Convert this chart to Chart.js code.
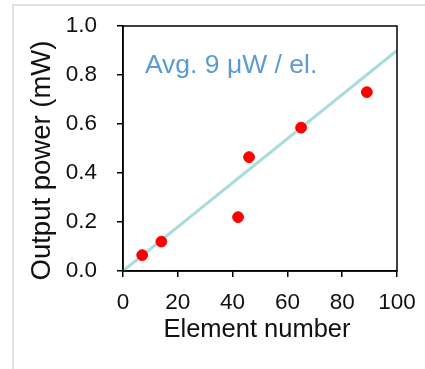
<!DOCTYPE html>
<html>
<head>
<meta charset="utf-8">
<script src="https://cdn.jsdelivr.net/npm/chart.js@4"></script>
<style>
  html, body { margin: 0; padding: 0; background: #fff; }
  #wrap { position: relative; width: 425px; height: 369px; overflow: hidden; }
  #frame { position: absolute; left: 12px; top: 4px; width: 420px; height: 370px;
           border-top: 2px solid #e2e2e2; border-left: 2px solid #e2e2e2; }
  canvas { position: absolute; left: 0; top: 0; }
</style>
</head>
<body>
<div id="wrap">
  <div id="frame"></div>
  <canvas id="c" width="425" height="369"></canvas>
</div>
<script>
const elementNumber = [7, 14, 42, 46, 65, 89];
const outputPower = [0.065, 0.12, 0.22, 0.465, 0.585, 0.73];
const fitX = [0, 100];
const fitY = [0, 0.9];
const xTicks = [0, 20, 40, 60, 80, 100];
const yTicks = [0.0, 0.2, 0.4, 0.6, 0.8, 1.0];
const annotationText = 'Avg. 9 \u03BCW / el.';
const xTitle = 'Element number';
const yTitle = 'Output power (mW)';

const fontFam = '"Liberation Sans", Arial, sans-serif';

const boxPlugin = {
  id: 'box',
  afterDatasetsDraw(chart) {
    const { ctx, chartArea: a } = chart;
    ctx.save();
    ctx.strokeStyle = '#000';
    ctx.lineWidth = 1.5;
    ctx.strokeRect(a.left, a.top, a.right - a.left, a.bottom - a.top);
    ctx.restore();
  }
};
const textPlugin = {
  id: 'texts',
  afterDraw(chart) {
    const { ctx, chartArea: a } = chart;
    const xs = chart.scales.x, ys = chart.scales.y;
    ctx.save();
    // annotation
    ctx.fillStyle = '#5b9bd5';
    ctx.font = '26.5px ' + fontFam;
    ctx.textAlign = 'left';
    ctx.textBaseline = 'alphabetic';
    ctx.fillText(annotationText, xs.getPixelForValue(8), ys.getPixelForValue(0.81));
    // x title
    ctx.fillStyle = '#111';
    ctx.font = '25.5px ' + fontFam;
    ctx.textAlign = 'center';
    ctx.fillText(xTitle, (a.left + a.right) / 2 - 3, a.bottom + 66);
    // y title
    ctx.font = '27.5px ' + fontFam;
    ctx.translate(50, (a.top + a.bottom) / 2 + 12);
    ctx.rotate(-Math.PI / 2);
    ctx.fillText(yTitle, 0, 0);
    ctx.restore();
  }
};

new Chart(document.getElementById('c'), {
  type: 'scatter',
  data: {
    datasets: [
      {
        type: 'line',
        data: fitX.map((x, i) => ({ x, y: fitY[i] })),
        borderColor: '#aadcdc',
        borderWidth: 3,
        pointRadius: 0,
        fill: false,
        order: 2
      },
      {
        data: elementNumber.map((x, i) => ({ x, y: outputPower[i] })),
        backgroundColor: '#ff0000',
        borderColor: '#ff0000',
        pointRadius: 5.4,
        order: 1
      }
    ]
  },
  plugins: [boxPlugin, textPlugin],
  options: {
    responsive: false,
    animation: false,
    events: [],
    layout: { padding: { top: 26, right: 28, left: 0, bottom: 0 } },
    plugins: { legend: { display: false }, tooltip: { enabled: false } },
    scales: {
      x: {
        type: 'linear', min: 0, max: 100,
        afterBuildTicks: s => { s.ticks = xTicks.map(v => ({ value: v })); },
        afterFit: s => { s.height = 98; s.paddingLeft = 0; s.paddingRight = 0; },
        grid: { drawOnChartArea: false, drawTicks: true, tickLength: 6, tickColor: '#000', lineWidth: 1.5 },
        border: { display: true, color: '#000', width: 1.5 },
        ticks: { color: '#111', font: { family: fontFam, size: 22.5 }, padding: 12, maxRotation: 0,
                 callback: v => String(v) },
        title: { display: false }
      },
      y: {
        type: 'linear', min: 0, max: 1.0,
        afterBuildTicks: s => { s.ticks = yTicks.map(v => ({ value: v })); },
        afterFit: s => { s.width = 123; s.paddingTop = 0; s.paddingBottom = 0; },
        grid: { drawOnChartArea: false, drawTicks: true, tickLength: 6, tickColor: '#000', lineWidth: 1.5 },
        border: { display: true, color: '#000', width: 1.5 },
        ticks: { color: '#111', font: { family: fontFam, size: 22.5 }, padding: 20,
                 callback: v => Number(v).toFixed(1) },
        title: { display: false }
      }
    }
  }
});
</script>
</body>
</html>
